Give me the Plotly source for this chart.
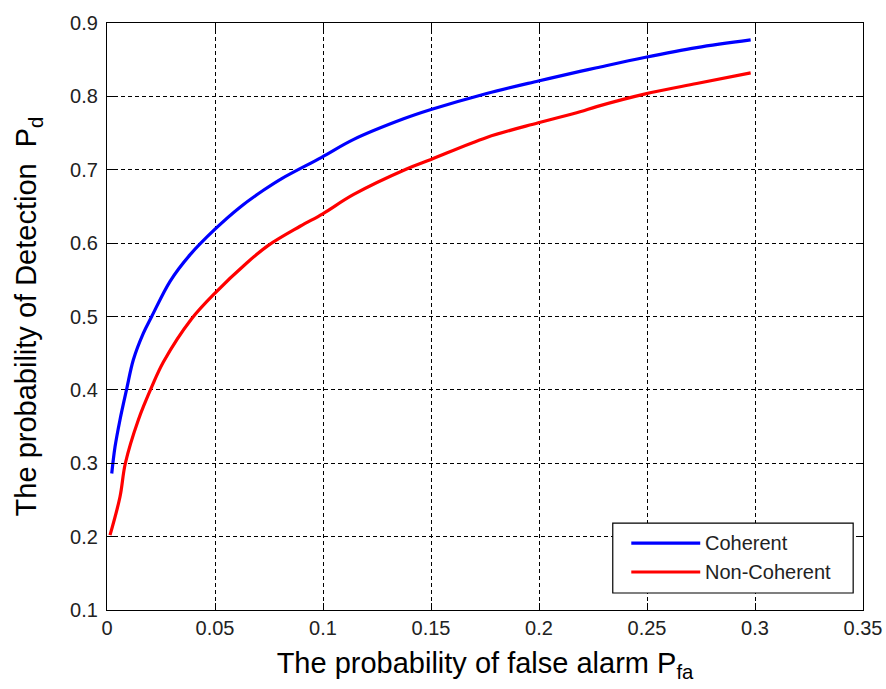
import plotly.graph_objects as go

# Data
pfa_coherent = [0.0022, 0.0037, 0.006, 0.0091, 0.0122, 0.0168, 0.0207, 0.0292, 0.0384, 0.05,
                0.0616, 0.0724, 0.0809, 0.0994, 0.114, 0.137, 0.15, 0.1758, 0.1997, 0.219,
                0.2267, 0.2488, 0.273, 0.298]
pd_coherent = [0.286, 0.322, 0.359, 0.401, 0.441, 0.477, 0.500, 0.548, 0.584, 0.619,
               0.649, 0.672, 0.688, 0.717, 0.741, 0.769, 0.782, 0.804, 0.821, 0.834,
               0.839, 0.853, 0.8665, 0.877]

pfa_noncoherent = [0.0014, 0.006, 0.0085, 0.0145, 0.0207, 0.0261, 0.0392, 0.05, 0.0647, 0.0747,
                   0.0894, 0.0999, 0.114, 0.1387, 0.15, 0.1758, 0.1997, 0.219, 0.2267, 0.2488,
                   0.273, 0.298]
pd_noncoherent = [0.202, 0.254, 0.300, 0.359, 0.404, 0.438, 0.497, 0.532, 0.573, 0.597,
                  0.623, 0.640, 0.666, 0.701, 0.714, 0.744, 0.764, 0.779, 0.786, 0.803,
                  0.8175, 0.832]

series_names = ["Coherent", "Non-Coherent"]
series_colors = ["#0000FF", "#FF0000"]

x_ticks = [0, 0.05, 0.1, 0.15, 0.2, 0.25, 0.3, 0.35]
x_tick_labels = ["0", "0.05", "0.1", "0.15", "0.2", "0.25", "0.3", "0.35"]
y_ticks = [0.1, 0.2, 0.3, 0.4, 0.5, 0.6, 0.7, 0.8, 0.9]
y_tick_labels = ["0.1", "0.2", "0.3", "0.4", "0.5", "0.6", "0.7", "0.8", "0.9"]

FONT = "Liberation Sans, Arial, Helvetica, sans-serif"

fig = go.Figure()
for xs, ys, name, color in [(pfa_coherent, pd_coherent, series_names[0], series_colors[0]),
                            (pfa_noncoherent, pd_noncoherent, series_names[1], series_colors[1])]:
    fig.add_trace(go.Scatter(x=xs, y=ys, mode="lines", name=name,
                             line=dict(color=color, width=3.2, shape="spline", smoothing=1.0),
                             showlegend=False))

axis_common = dict(
    showline=True, linecolor="black", linewidth=1.2, mirror="allticks",
    ticks="inside", ticklen=7, tickcolor="black", tickwidth=1,
    showgrid=True, gridcolor="black", gridwidth=1, griddash="4px,3px",
    zeroline=False, automargin=False,
    tickfont=dict(size=20, color="#222222", family=FONT),
)

fig.update_xaxes(range=[0, 0.35], tickvals=x_ticks, ticktext=x_tick_labels,
                 title=dict(text="The probability of false alarm P<sub>fa</sub>",
                            font=dict(size=29, color="black", family=FONT), standoff=14),
                 **axis_common)
fig.update_yaxes(range=[0.1, 0.9], tickvals=y_ticks, ticktext=y_tick_labels,
                 title=dict(text="The probability of Detection\u00a0 P<sub>d</sub>",
                            font=dict(size=29, color="black", family=FONT), standoff=24),
                 ticklabelstandoff=4,
                 **axis_common)

# Legend box (MATLAB style, long line samples)
lx0, lx1, ly0, ly1 = 0.669, 0.987, 0.029, 0.148
fig.add_shape(type="rect", xref="paper", yref="paper", x0=lx0, x1=lx1, y0=ly0, y1=ly1,
              line=dict(color="black", width=1.2), fillcolor="white", layer="above")
for name, color, yy in [(series_names[0], series_colors[0], 0.114),
                        (series_names[1], series_colors[1], 0.0647)]:
    fig.add_shape(type="line", xref="paper", yref="paper", x0=0.6935, x1=0.7847, y0=yy, y1=yy,
                  line=dict(color=color, width=3.2), layer="above")
    fig.add_annotation(xref="paper", yref="paper", x=0.788, y=yy, text=name, showarrow=False,
                       xanchor="left", yanchor="middle",
                       font=dict(size=20, color="#222222", family=FONT))

fig.update_layout(
    width=886, height=689,
    margin=dict(l=107, r=23, t=23, b=79),
    paper_bgcolor="white", plot_bgcolor="white",
    font=dict(family=FONT, color="black"),
)

fig.write_html("out.html")
